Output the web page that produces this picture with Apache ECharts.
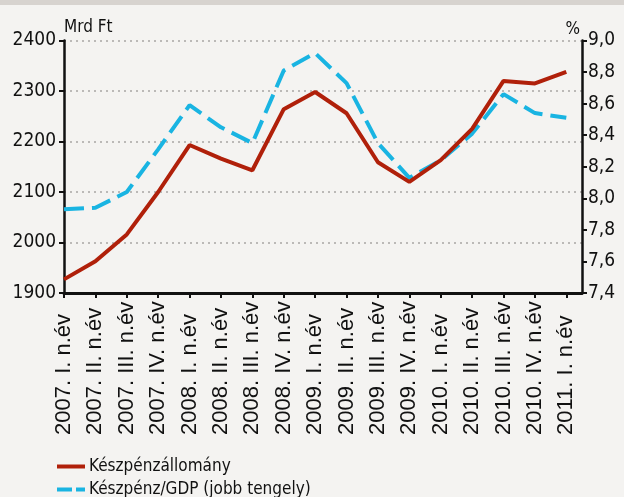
<!DOCTYPE html>
<html>
<head>
<meta charset="utf-8">
<script src="https://cdn.jsdelivr.net/npm/echarts@6/dist/echarts.min.js"></script>
<style>
html,body{margin:0;padding:0;background:#f4f3f1;}
#c{width:624px;height:497px;}
</style>
</head>
<body>
<div id="c"></div>
<script>
const categories = ["2007. I. n.év","2007. II. n.év","2007. III. n.év","2007. IV. n.év",
  "2008. I. n.év","2008. II. n.év","2008. III. n.év","2008. IV. n.év",
  "2009. I. n.év","2009. II. n.év","2009. III. n.év","2009. IV. n.év",
  "2010. I. n.év","2010. II. n.év","2010. III. n.év","2010. IV. n.év",
  "2011. I. n.év"];
const cashStock = [1927,1963,2016,2100,2193,2166,2143,2264,2298,2256,2159,2120,2163,2225,2320,2315,2338];
const cashToGdp = [7.93,7.94,8.04,8.31,8.59,8.45,8.35,8.81,8.92,8.73,8.35,8.13,8.24,8.41,8.66,8.54,8.51];
const leftTicks = [1900,2000,2100,2200,2300,2400];
const rightTicks = [7.4,7.6,7.8,8.0,8.2,8.4,8.6,8.8,9.0];
const seriesNames = ["Készpénzállomány","Készpénz/GDP (jobb tengely)"];

const FONT = '"DejaVu Sans Condensed","DejaVu Sans",sans-serif';
const RED = '#b0200a', BLUE = '#19b4e2';
const xIdx = categories.map((c,i)=>i);
const legendBase = {
  orient:'vertical',left:52,itemWidth:28,itemHeight:4,
  textStyle:{fontFamily:FONT,fontSize:17,color:'#111',padding:[0,0,0,-1]}
};
const chart = echarts.init(document.getElementById('c'));
chart.setOption({
  animation:false,
  backgroundColor:'#f4f3f1',
  graphic:[{type:'rect',left:0,top:0,shape:{width:624,height:5},style:{fill:'#d7d3cf'}}],
  grid:{left:64,right:42,top:40.5,bottom:204,containLabel:false},
  legend:[
    Object.assign({},legendBase,{top:453,data:[{name:seriesNames[0],icon:'path://M0,0h28v4h-28z'}]}),
    Object.assign({},legendBase,{top:476,data:[{name:seriesNames[1],icon:'path://M0,0h15v4h-15z M19,0h9v4h-9z'}]})
  ],
  xAxis:{
    type:'value',min:0,max:16.5,interval:1,
    axisLine:{lineStyle:{color:'#111',width:3}},
    axisTick:{show:true,length:5,inside:false,customValues:xIdx,lineStyle:{color:'#111',width:2}},
    axisLabel:{
      customValues:xIdx,
      rotate:90,margin:142,align:'left',verticalAlign:'middle',
      fontFamily:'"Liberation Sans",Arial,sans-serif',fontSize:22,color:'#111',
      formatter:v=>categories[Math.round(v)]||''
    },
    splitLine:{show:false}
  },
  yAxis:[{
    type:'value',min:1900,max:2400,interval:100,position:'left',
    name:'Mrd Ft',nameLocation:'end',nameGap:4,
    nameTextStyle:{fontFamily:FONT,fontSize:17,color:'#111',align:'left',verticalAlign:'bottom'},
    axisLine:{show:true,lineStyle:{color:'#111',width:2.5}},
    axisTick:{show:true,length:5,lineStyle:{color:'#111',width:2}},
    axisLabel:{fontFamily:FONT,fontSize:19,color:'#111',margin:8,
      customValues:leftTicks,formatter:v=>String(v)},
    splitLine:{show:true,lineStyle:{color:'#a8a6a4',width:1.5,type:[2,4]}}
  },{
    type:'value',min:7.4,max:9.0,interval:0.2,position:'right',
    name:'%',nameLocation:'end',nameGap:2,
    nameTextStyle:{fontFamily:FONT,fontSize:17,color:'#111',align:'right',verticalAlign:'bottom',padding:[0,2,0,0]},
    axisLine:{show:true,lineStyle:{color:'#111',width:2.5}},
    axisTick:{show:true,length:5,lineStyle:{color:'#111',width:2}},
    axisLabel:{fontFamily:FONT,fontSize:19,color:'#111',margin:6,
      customValues:rightTicks,
      formatter:v=>v.toFixed(1).replace('.',',')},
    splitLine:{show:false}
  }],
  series:[{
    name:seriesNames[0],type:'line',yAxisIndex:0,symbol:'none',
    lineStyle:{color:RED,width:4},itemStyle:{color:RED},
    data:cashStock.map((v,i)=>[i,v]),z:3
  },{
    name:seriesNames[1],type:'line',yAxisIndex:1,symbol:'none',
    lineStyle:{color:BLUE,width:4,type:[20,8]},itemStyle:{color:BLUE},
    data:cashToGdp.map((v,i)=>[i,v]),z:2
  }]
});
</script>
</body>
</html>
